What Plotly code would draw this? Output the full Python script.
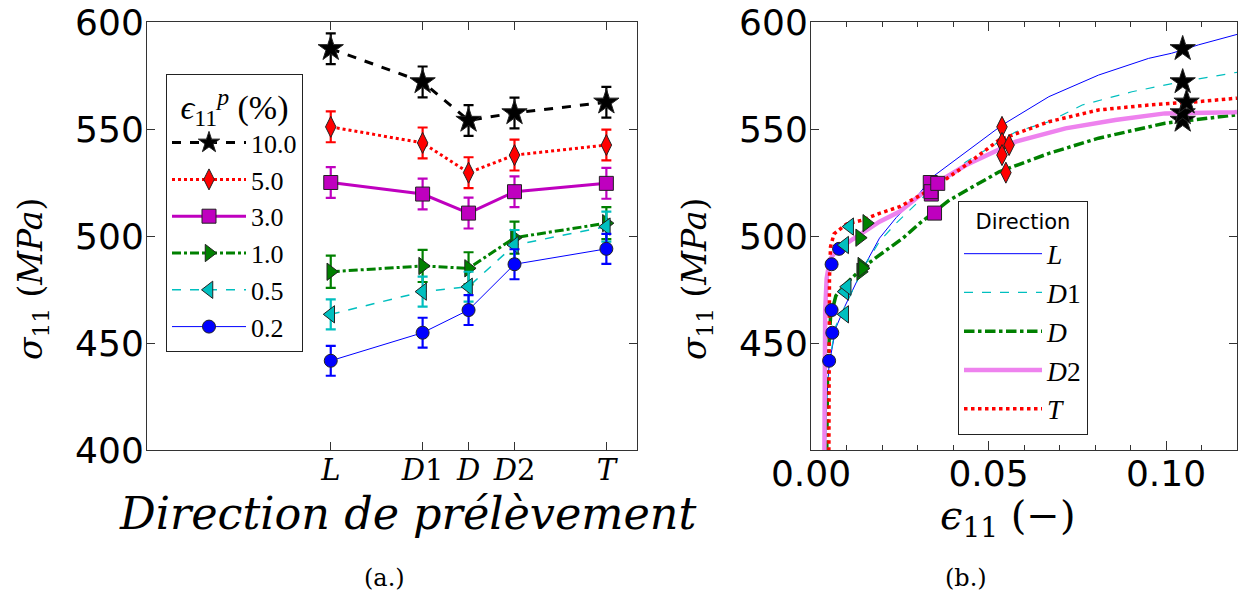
import plotly.graph_objects as go

# ---------------- Panel (a): stress vs sampling direction ----------------
dir_angle = [0, 30, 45, 60, 90]
dir_ticktext = ["<i>L</i>", "<i>D</i>1", "<i>D</i>", "<i>D</i>2", "<i>T</i>"]
levels = ["10.0", "5.0", "3.0", "1.0", "0.5", "0.2"]

sig_p100 = [587.5, 572.0, 554.0, 557.5, 562.5]
sig_p050 = [551.0, 543.5, 529.6, 537.8, 542.5]
sig_p030 = [525.0, 519.6, 510.7, 520.7, 524.6]
sig_p010 = [483.3, 486.0, 484.9, 499.2, 506.0]
sig_p005 = [463.4, 474.0, 476.3, 495.8, 504.4]
sig_p002 = [441.7, 454.8, 465.4, 486.8, 494.0]

err_p100 = [7.2, 7.2, 7.2, 7.2, 7.2]
err_p050 = [7.2, 7.2, 7.2, 7.2, 7.2]
err_p030 = [7.2, 7.2, 7.2, 7.2, 7.2]
err_p010 = [7.5, 7.5, 7.5, 7.5, 7.5]
err_p005 = [7.0, 7.0, 7.0, 7.0, 7.0]
err_p002 = [7.0, 7.0, 7.0, 7.0, 7.0]

# ---------------- Panel (b): stress-strain curves ----------------
dir_names = ["<i>L</i>", "<i>D</i>1", "<i>D</i>", "<i>D</i>2", "<i>T</i>"]

eps_L = [0.0038, 0.0040, 0.0045, 0.0051, 0.0070, 0.0095, 0.0147, 0.0193, 0.0240, 0.0306, 0.0343, 0.0437,
         0.0539, 0.0670, 0.0810, 0.0951, 0.1016, 0.1091, 0.1194, 0.1200]
sig_L = [380, 400, 425, 440, 457, 467, 485, 499, 508.6, 520, 527.7, 539.4,
         551.9, 565.1, 575.2, 583.0, 585.4, 589.3, 593.9, 594.2]

eps_D1 = [0.0038, 0.0040, 0.0045, 0.0052, 0.0070, 0.0095, 0.0147, 0.0193, 0.0240, 0.0315, 0.0437,
          0.0577, 0.0670, 0.0764, 0.0904, 0.1044, 0.1184, 0.1200]
sig_D1 = [380, 400, 425, 442, 458, 467, 485, 497.5, 506, 518, 534.7,
          548.7, 553.4, 561.2, 567.4, 572.1, 576.0, 576.5]

eps_D = [0.0043, 0.0044, 0.0047, 0.0055, 0.0070, 0.0100, 0.0145, 0.0184, 0.0259, 0.0306, 0.0390,
         0.0530, 0.0670, 0.0810, 0.0997, 0.1194, 0.1200]
sig_D = [380, 400, 440, 462, 472, 478, 485, 490, 499, 505.9, 516.8,
         530.0, 538.6, 545.7, 552.7, 556.5, 556.6]

eps_D2 = [0.0037, 0.0037, 0.0038, 0.0040, 0.0044, 0.0053, 0.0070, 0.0100, 0.0193, 0.0250, 0.0343,
          0.0437, 0.0577, 0.0717, 0.0857, 0.0997, 0.1194, 0.1200]
sig_D2 = [380, 400, 440, 465, 480, 489, 493, 496.6, 506.7, 511.4, 523.8,
          533.2, 544.1, 550.3, 554.2, 557.3, 557.8, 557.9]

eps_T = [0.0050, 0.0050, 0.0051, 0.0052, 0.0055, 0.0065, 0.0100, 0.0147, 0.0193, 0.0250, 0.0343,
         0.0437, 0.0530, 0.0670, 0.0810, 0.0951, 0.1091, 0.1194, 0.1200]
sig_T = [380, 400, 450, 480, 495, 501, 505.6, 507.5, 510.6, 513.7, 522.3,
         533.2, 544.9, 553.4, 558.9, 561.2, 562.8, 564.3, 564.4]

# marker positions on the curves (strain at each plastic strain level, per direction L, D1, D, D2, T)
eps_p100 = [0.1047, 0.1047, 0.1047, 0.1047, 0.1058]
eps_p050 = [0.0538, 0.0538, 0.0549, 0.0538, 0.0558]
eps_p030 = [0.0336, 0.0339, 0.0348, 0.0338, 0.0357]
eps_p010 = [0.0140, 0.0143, 0.0145, 0.0137, 0.0157]
eps_p005 = [0.0095, 0.0095, 0.0102, 0.0095, 0.0109]
eps_p002 = [0.0051, 0.0060, 0.0058, 0.0058, 0.0079]

# ---------------- styles ----------------
SERIF = "DejaVu Serif"
SERIF2 = "Liberation Serif"
SANS = "DejaVu Sans"
lvl_style = {
    "10.0": dict(color="black", dash="dash", width=3, symbol="star", size=19),
    "5.0": dict(color="#FF0000", dash="dot", width=3, symbol="diamond-tall", size=15),
    "3.0": dict(color="#BF00BF", dash="solid", width=3, symbol="square", size=14),
    "1.0": dict(color="#008000", dash="dashdot", width=3, symbol="triangle-right", size=15),
    "0.5": dict(color="#00BFBF", dash="dash", width=1.5, symbol="triangle-left", size=15),
    "0.2": dict(color="#0000FF", dash="solid", width=1, symbol="circle", size=13),
}
lvl_sig = [sig_p100, sig_p050, sig_p030, sig_p010, sig_p005, sig_p002]
lvl_err = [err_p100, err_p050, err_p030, err_p010, err_p005, err_p002]
lvl_eps = [eps_p100, eps_p050, eps_p030, eps_p010, eps_p005, eps_p002]

curve_style = [
    dict(color="#0000FF", dash="solid", width=1),
    dict(color="#00BFBF", dash="dash", width=1.2),
    dict(color="#008000", dash="dashdot", width=3.5),
    dict(color="#EE82EE", dash="solid", width=4.5),
    dict(color="#FF0000", dash="dot", width=3.5),
]
curve_eps = [eps_L, eps_D1, eps_D, eps_D2, eps_T]
curve_sig = [sig_L, sig_D1, sig_D, sig_D2, sig_T]

fig = go.Figure()

# panel (a)
for lvl, sig, err in zip(levels, lvl_sig, lvl_err):
    s = lvl_style[lvl]
    fig.add_trace(go.Scatter(
        x=dir_angle, y=sig, name=lvl, mode="lines+markers",
        line=dict(color=s["color"], dash=s["dash"], width=s["width"]),
        marker=dict(symbol=s["symbol"], size=s["size"], color=s["color"],
                    line=dict(color="#222222", width=1)),
        error_y=dict(type="data", array=err, color=s["color"], thickness=2.2, width=5),
        xaxis="x", yaxis="y", legend="legend",
    ))

# panel (b) curves
for name, ex, sy, st in zip(dir_names, curve_eps, curve_sig, curve_style):
    fig.add_trace(go.Scatter(
        x=ex, y=sy, name=name, mode="lines",
        line=dict(color=st["color"], dash=st["dash"], width=st["width"]),
        xaxis="x2", yaxis="y2", legend="legend2",
    ))

# panel (b) markers
for lvl, ex, sig in zip(levels[::-1], lvl_eps[::-1], lvl_sig[::-1]):
    s = lvl_style[lvl]
    fig.add_trace(go.Scatter(
        x=ex, y=sig, mode="markers", showlegend=False,
        marker=dict(symbol=s["symbol"], size=s["size"], color=s["color"],
                    line=dict(color="#222222", width=1)),
        xaxis="x2", yaxis="y2",
    ))

W, H = 1242, 604
def px_x(p):
    return p / W
def px_y(p):
    return 1 - p / H

axis_common = dict(showline=True, linecolor="#333333", linewidth=1, mirror="ticks",
                   ticks="inside", tickcolor="#333333", showgrid=False, zeroline=False,
                   automargin=False)

fig.update_layout(
    template="none",
    width=W, height=H,
    margin=dict(l=0, r=0, t=0, b=0, autoexpand=False),
    paper_bgcolor="white", plot_bgcolor="white",
    xaxis=dict(domain=[px_x(147), px_x(637)], range=[-60, 100], tickvals=dir_angle,
               ticktext=dir_ticktext, ticklen=8, anchor="y", ticklabelstandoff=-6,
               tickfont=dict(family=SERIF, size=29, color="black"), **axis_common),
    yaxis=dict(domain=[px_y(450), px_y(22)], range=[400, 600], tickvals=[400, 450, 500, 550, 600],
               ticklen=8, anchor="x", ticklabelstandoff=-5,
               tickfont=dict(family=SANS, size=36, color="black"), **axis_common),
    xaxis2=dict(domain=[px_x(811), px_x(1237)], range=[0, 0.12], tickvals=[0.0, 0.05, 0.10],
                ticktext=["0.00", "0.05", "0.10"], ticklen=9, anchor="y2", ticklabelstandoff=-8,
                minor=dict(dtick=0.01, tick0=0, ticklen=5, ticks="inside", tickcolor="#333333"),
                tickfont=dict(family=SANS, size=36, color="black"), **axis_common),
    yaxis2=dict(domain=[px_y(450), px_y(22)], range=[400, 600], tickvals=[450, 500, 550, 600],
                ticklen=8, anchor="x2", ticklabelstandoff=-5,
                tickfont=dict(family=SANS, size=36, color="black"), **axis_common),
    legend=dict(x=px_x(166), y=px_y(74), xanchor="left", yanchor="top",
                bordercolor="#222222", borderwidth=1, bgcolor="white",
                title=dict(text="<i>ϵ</i><sub>11</sub><sup><i>p</i></sup> (%)", side="top center",
                           font=dict(family=SERIF2, size=34, color="black")),
                font=dict(family=SERIF2, size=26, color="black"), itemwidth=74,
                tracegroupgap=0),
    legend2=dict(x=px_x(958), y=px_y(201), xanchor="left", yanchor="top",
                 bordercolor="#222222", borderwidth=1, bgcolor="white",
                 title=dict(text="Direction", side="top center",
                            font=dict(family=SANS, size=21, color="black")),
                 font=dict(family=SERIF2, size=27.5, color="black"), itemwidth=78),
    showlegend=True,
)

annots = [
    dict(x=px_x(32), y=px_y(279), text="<i>σ</i><sub>11</sub> (<i>MPa</i>)", textangle=-90,
         font=dict(family=SERIF, size=33, color="black")),
    dict(x=px_x(407), y=px_y(513), text="<i>Direction de prélèvement</i>",
         font=dict(family=SERIF, size=44.5, color="black")),
    dict(x=px_x(696), y=px_y(279), text="<i>σ</i><sub>11</sub> (<i>MPa</i>)", textangle=-90,
         font=dict(family=SERIF, size=33, color="black")),
    dict(x=px_x(1008), y=px_y(518), text="<i>ϵ</i><sub>11</sub> (−)",
         font=dict(family=SERIF, size=40, color="black")),
    dict(x=px_x(384), y=px_y(578), text="(a.)", font=dict(family=SERIF, size=24, color="black")),
    dict(x=px_x(966), y=px_y(578), text="(b.)", font=dict(family=SERIF, size=24, color="black")),
]
for a in annots:
    a.update(xref="paper", yref="paper", showarrow=False, xanchor="center", yanchor="middle")
fig.update_layout(annotations=annots)

fig.write_html("out.html", config={"displayModeBar": False},
               post_script="document.body.style.margin='0px';")
